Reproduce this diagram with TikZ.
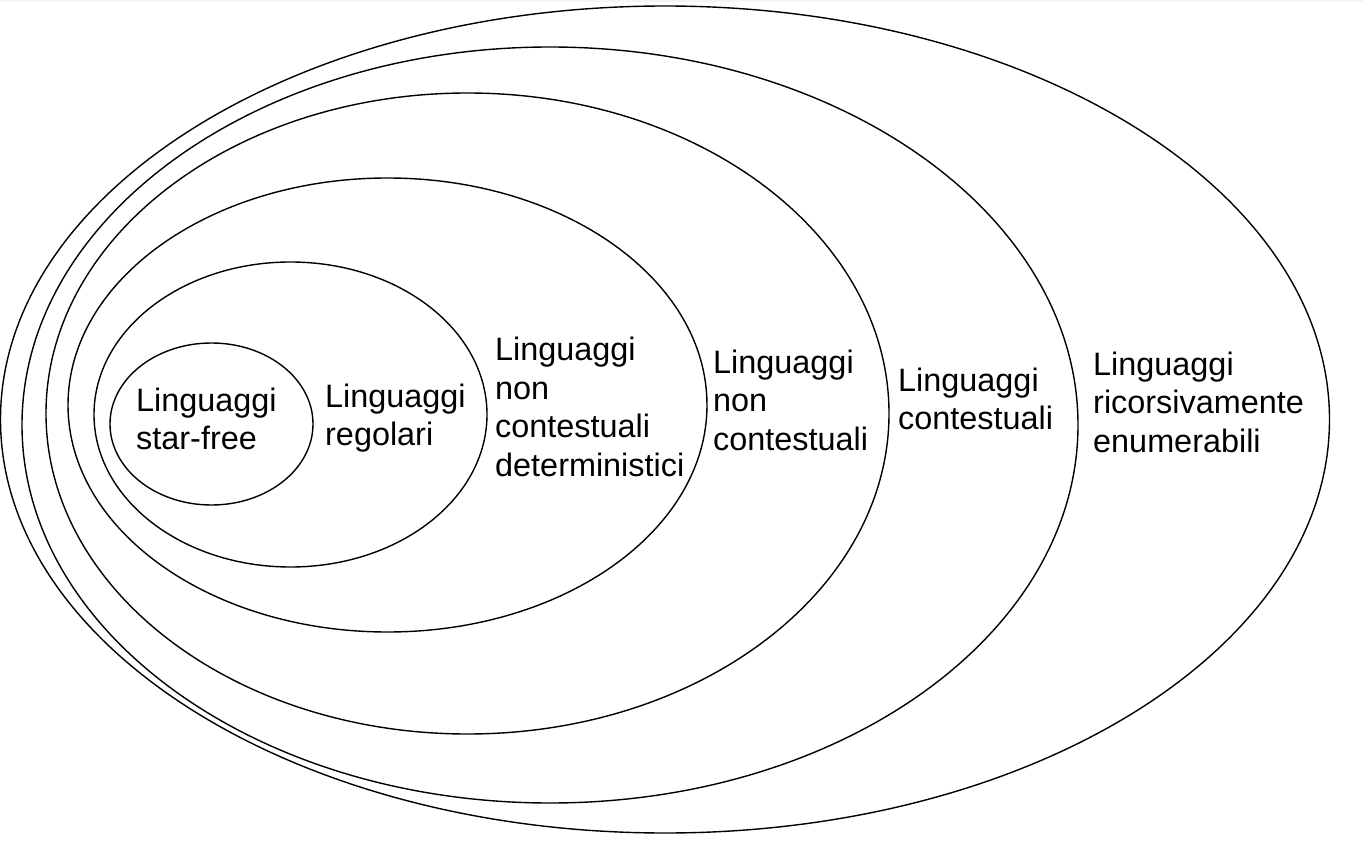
\documentclass[tikz,border=0pt]{standalone}
\usepackage{fontspec}
\setmainfont{Liberation Sans}
\begin{document}
\begin{tikzpicture}[x=1pt,y=-1pt,
  ring/.style={draw=black,line width=1.4pt},
  lbl/.style={anchor=base west,align=left,inner sep=0pt,
    font=\fontsize{32.4}{38.4}\selectfont}]
\useasboundingbox (0,0) rectangle (1363,842);
\fill[gray!8] (0,0) rectangle (1363,2);
% ellipses, outermost first
\draw[ring] (665,419.5) ellipse [x radius=664.5, y radius=413.5];
\draw[ring] (550,425) ellipse [x radius=528, y radius=378];
\draw[ring] (467.5,413.5) ellipse [x radius=421.5, y radius=320.5];
\draw[ring] (387.5,405) ellipse [x radius=319.5, y radius=227];
\draw[ring] (290.5,414.5) ellipse [x radius=196.5, y radius=152.5];
\draw[ring] (211.5,424) ellipse [x radius=101.5, y radius=81];
% labels (anchored at the baseline of their last line)
\node[lbl] (sf) at (136,449.5) {Linguaggi\\star-free};
\node[lbl] (reg) at (325,445.5) {Linguaggi\\regolari};
\node[lbl] (dcf) at (495,476) {Linguaggi\\non\\contestuali\\deterministici};
\node[lbl] (cf) at (713,450) {Linguaggi\\non\\contestuali};
\node[lbl] (cs) at (898,429.5) {Linguaggi\\contestuali};
\node[lbl] (re) at (1093,452) {Linguaggi\\ricorsivamente\\enumerabili};
\end{tikzpicture}
\end{document}
